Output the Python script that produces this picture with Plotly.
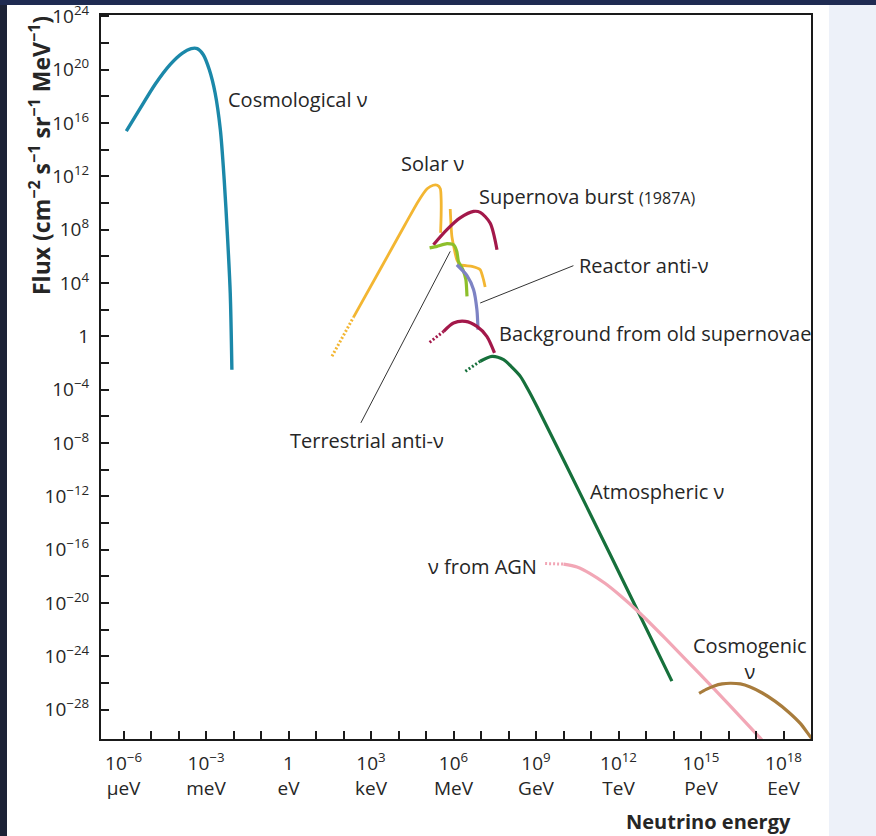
import numpy as np
import plotly.graph_objects as go

# ---- data: log10(E / eV) and log10(flux) ----
cosmo_x = [-5.90, -5.39, -4.85, -4.30, -3.87, -3.54, -3.32, -3.10, -2.88, -2.67, -2.48, -2.34, -2.22, -2.12, -2.06]
cosmo_y = [15.39, 17.11, 18.91, 20.40, 21.23, 21.58, 21.58, 21.12, 19.99, 18.25, 15.50, 11.75, 7.50, 3.25, -2.50]

solar_dot_x = [1.58, 2.36]
solar_dot_y = [-1.50, 1.42]
solar_x = [2.36, 3.33, 4.24, 4.72, 5.04, 5.26, 5.41, 5.52, 5.55, 5.55, 5.53]
solar_y = [1.42, 5.01, 8.39, 10.14, 11.07, 11.33, 11.33, 11.07, 10.25, 9.12, 7.77]
solar_b8_x = [5.88, 5.94, 6.12, 6.24, 6.67, 6.97, 7.09, 7.15]
solar_b8_y = [9.55, 7.50, 5.75, 5.37, 5.25, 5.00, 4.25, 3.70]

sn_x = [5.27, 5.76, 6.24, 6.73, 6.97, 7.33, 7.58]
sn_y = [6.87, 8.00, 8.88, 9.37, 9.30, 8.50, 6.50]

terr_x = [5.13, 5.40, 5.76, 6.00, 6.12, 6.18, 6.34, 6.45, 6.49]
terr_y = [6.63, 6.75, 6.95, 6.87, 6.37, 5.62, 5.00, 4.25, 3.00]

reac_x = [6.12, 6.49, 6.73, 6.85, 6.89]
reac_y = [5.37, 4.55, 3.50, 2.00, 0.50]

bgsn_dot_x = [5.13, 5.64]
bgsn_dot_y = [-0.45, 0.37]
bgsn_x = [5.64, 6.00, 6.43, 6.85, 7.21, 7.49]
bgsn_y = [0.37, 1.00, 1.12, 0.75, 0.00, -1.24]

atm_dot_x = [6.43, 6.97]
atm_dot_y = [-2.62, -1.87]
atm_x = [6.97, 7.40, 7.82, 8.10, 8.43, 8.72, 9.03, 10.85, 12.55, 13.94]
atm_y = [-1.87, -1.50, -1.75, -2.27, -3.00, -4.03, -5.25, -12.81, -19.96, -25.86]

agn_dot_x = [9.33, 10.00]
agn_dot_y = [-17.04, -17.08]
agn_x = [10.00, 10.49, 10.97, 11.52, 12.06, 12.79, 13.70, 14.97, 16.06, 17.08, 17.23]
agn_y = [-17.08, -17.30, -17.79, -18.54, -19.44, -20.79, -22.66, -25.36, -27.72, -29.97, -30.31]

cgen_x = [14.93, 15.19, 15.48, 15.77, 16.06, 16.43, 16.79, 17.23, 17.70, 18.18, 18.61, 18.97, 19.05]
cgen_y = [-26.78, -26.48, -26.22, -26.07, -26.02, -26.07, -26.30, -26.75, -27.38, -28.17, -29.03, -30.01, -30.20]

reac_lead_x = [6.97, 10.36]
reac_lead_y = [2.50, 5.30]
terr_lead_x = [5.88, 2.63]
terr_lead_y = [6.37, -6.49]

x_tick_exps = list(range(-6, 19))
x_tick_named = {-6: "10<sup>−6</sup><br>μeV", -3: "10<sup>−3</sup><br>meV", 0: "1<br>eV",
                3: "10<sup>3</sup><br>keV", 6: "10<sup>6</sup><br>MeV", 9: "10<sup>9</sup><br>GeV",
                12: "10<sup>12</sup><br>TeV", 15: "10<sup>15</sup><br>PeV", 18: "10<sup>18</sup><br>EeV"}
y_tick_exps = list(range(-28, 25, 2))

# ---- layout geometry (pixels) ----
W, H = 876, 836
L, R, T, B = 101, 811, 15, 739


def px(x):
    return (x - L) / (R - L)


def py(y):
    return (B - y) / (B - T)


FONT = "Open Sans"
TXT = "#262626"

fig = go.Figure()


def add(xs, ys, color, width=3.2, dash=None, shape="spline", smoothing=0.8):
    fig.add_trace(go.Scatter(
        x=10.0 ** np.array(xs), y=10.0 ** np.array(ys), mode="lines",
        line=dict(color=color, width=width, dash=dash, shape=shape,
                  smoothing=smoothing if shape == "spline" else None),
        hoverinfo="skip", showlegend=False))


C_COSMO = "#1b88a9"
C_SOLAR = "#f3b632"
C_SN = "#a3184a"
C_TERR = "#8dbf2b"
C_REAC = "#7d83c4"
C_ATM = "#16703b"
C_AGN = "#f2a7b6"
C_CGEN = "#a87c3c"

add(cosmo_x, cosmo_y, C_COSMO, width=3.4)
add(solar_dot_x, solar_dot_y, C_SOLAR, width=3, dash="2px,2px", shape="linear")
add(solar_x, solar_y, C_SOLAR, width=2.8, smoothing=0.6)
add(solar_b8_x, solar_b8_y, C_SOLAR, width=2.8, smoothing=0.5)
add(sn_x, sn_y, C_SN, width=3.2)
add(terr_x, terr_y, C_TERR, width=3.2, smoothing=0.5)
add(reac_x, reac_y, C_REAC, width=3.2)
add(bgsn_dot_x, bgsn_dot_y, C_SN, width=3, dash="2px,2px", shape="linear")
add(bgsn_x, bgsn_y, C_SN, width=3.2)
add(atm_dot_x, atm_dot_y, C_ATM, width=3, dash="2px,2px", shape="linear")
add(atm_x, atm_y, C_ATM, width=3.2)
add(agn_dot_x, agn_dot_y, C_AGN, width=3, dash="2px,2px", shape="linear")
add(agn_x, agn_y, C_AGN, width=3.2)
add(cgen_x, cgen_y, C_CGEN, width=3.2)
add(reac_lead_x, reac_lead_y, "#333333", width=1, shape="linear")
add(terr_lead_x, terr_lead_y, "#333333", width=1, shape="linear")

# background decorations (dark strips + light side panel)
shapes = [
    dict(type="rect", xref="paper", yref="paper", x0=px(0), x1=px(7), y0=py(H), y1=py(0),
         fillcolor="#1c2236", line=dict(width=0), layer="below"),
    dict(type="rect", xref="paper", yref="paper", x0=px(0), x1=px(W), y0=py(5), y1=py(0),
         fillcolor="#1f2b52", line=dict(width=0), layer="below"),
    dict(type="rect", xref="paper", yref="paper", x0=px(829), x1=px(W), y0=py(H), y1=py(5),
         fillcolor="#edf1f9", line=dict(width=0), layer="below"),
]

annots = []


def note(text, x, y, size=20, xanchor="left", bold=False, angle=0, yanchor="middle"):
    annots.append(dict(text=f"<b>{text}</b>" if bold else text, xref="paper", yref="paper",
                       x=px(x), y=py(y), xanchor=xanchor, yanchor=yanchor, showarrow=False,
                       textangle=angle, font=dict(family=FONT, size=size, color=TXT)))


note("Cosmological ν", 226, 99)
note("Solar ν", 399, 163)
note("Supernova burst <span style='font-size:16px'>(1987A)</span>", 477, 197)
note("Reactor anti-ν", 577, 265)
note("Background from old supernovae", 497, 333)
note("Terrestrial anti-ν", 367, 440, xanchor="center")
note("Atmospheric ν", 588, 491)
note("ν from AGN", 539, 566, xanchor="right")
note("Cosmogenic<br>ν", 750, 658, xanchor="center")
note("Neutrino energy", 793, 821, xanchor="right", bold=True)
note("Flux (cm<sup>−2</sup> s<sup>−1</sup> sr<sup>−1</sup> MeV<sup>−1</sup>)", 40, 156,
     size=23, xanchor="center", bold=True, angle=-90)

x_ticktext = [x_tick_named.get(k, "") for k in x_tick_exps]
y_ticktext = [("1" if k == 0 else f"10<sup>{str(k).replace('-', '−')}</sup>") if k % 4 == 0 else ""
              for k in y_tick_exps]

fig.update_layout(
    width=W, height=H,
    margin=dict(l=L, r=W - R, t=T, b=H - B, pad=0, autoexpand=False),
    paper_bgcolor="white", plot_bgcolor="white",
    showlegend=False,
    shapes=shapes, annotations=annots,
    xaxis=dict(type="log", range=[-6.82, 19.0], showgrid=False, zeroline=False, automargin=False,
               showline=True, linecolor="#1a1a1a", linewidth=2.2, mirror=True,
               ticks="inside", ticklen=8, tickwidth=2, tickcolor="#1a1a1a",
               tickvals=[10.0 ** k for k in x_tick_exps], ticktext=x_ticktext,
               tickfont=dict(family=FONT, size=19, color=TXT), tickangle=0,
               ticklabelstandoff=6),
    yaxis=dict(type="log", range=[-30.2, 24.1], showgrid=False, zeroline=False, automargin=False,
               showline=True, linecolor="#1a1a1a", linewidth=2.2, mirror=True,
               ticks="inside", ticklen=8, tickwidth=2, tickcolor="#1a1a1a",
               tickvals=[10.0 ** k for k in y_tick_exps], ticktext=y_ticktext,
               tickfont=dict(family=FONT, size=19, color=TXT),
               ticklabelstandoff=6),
)

fig.write_html("out.html")
